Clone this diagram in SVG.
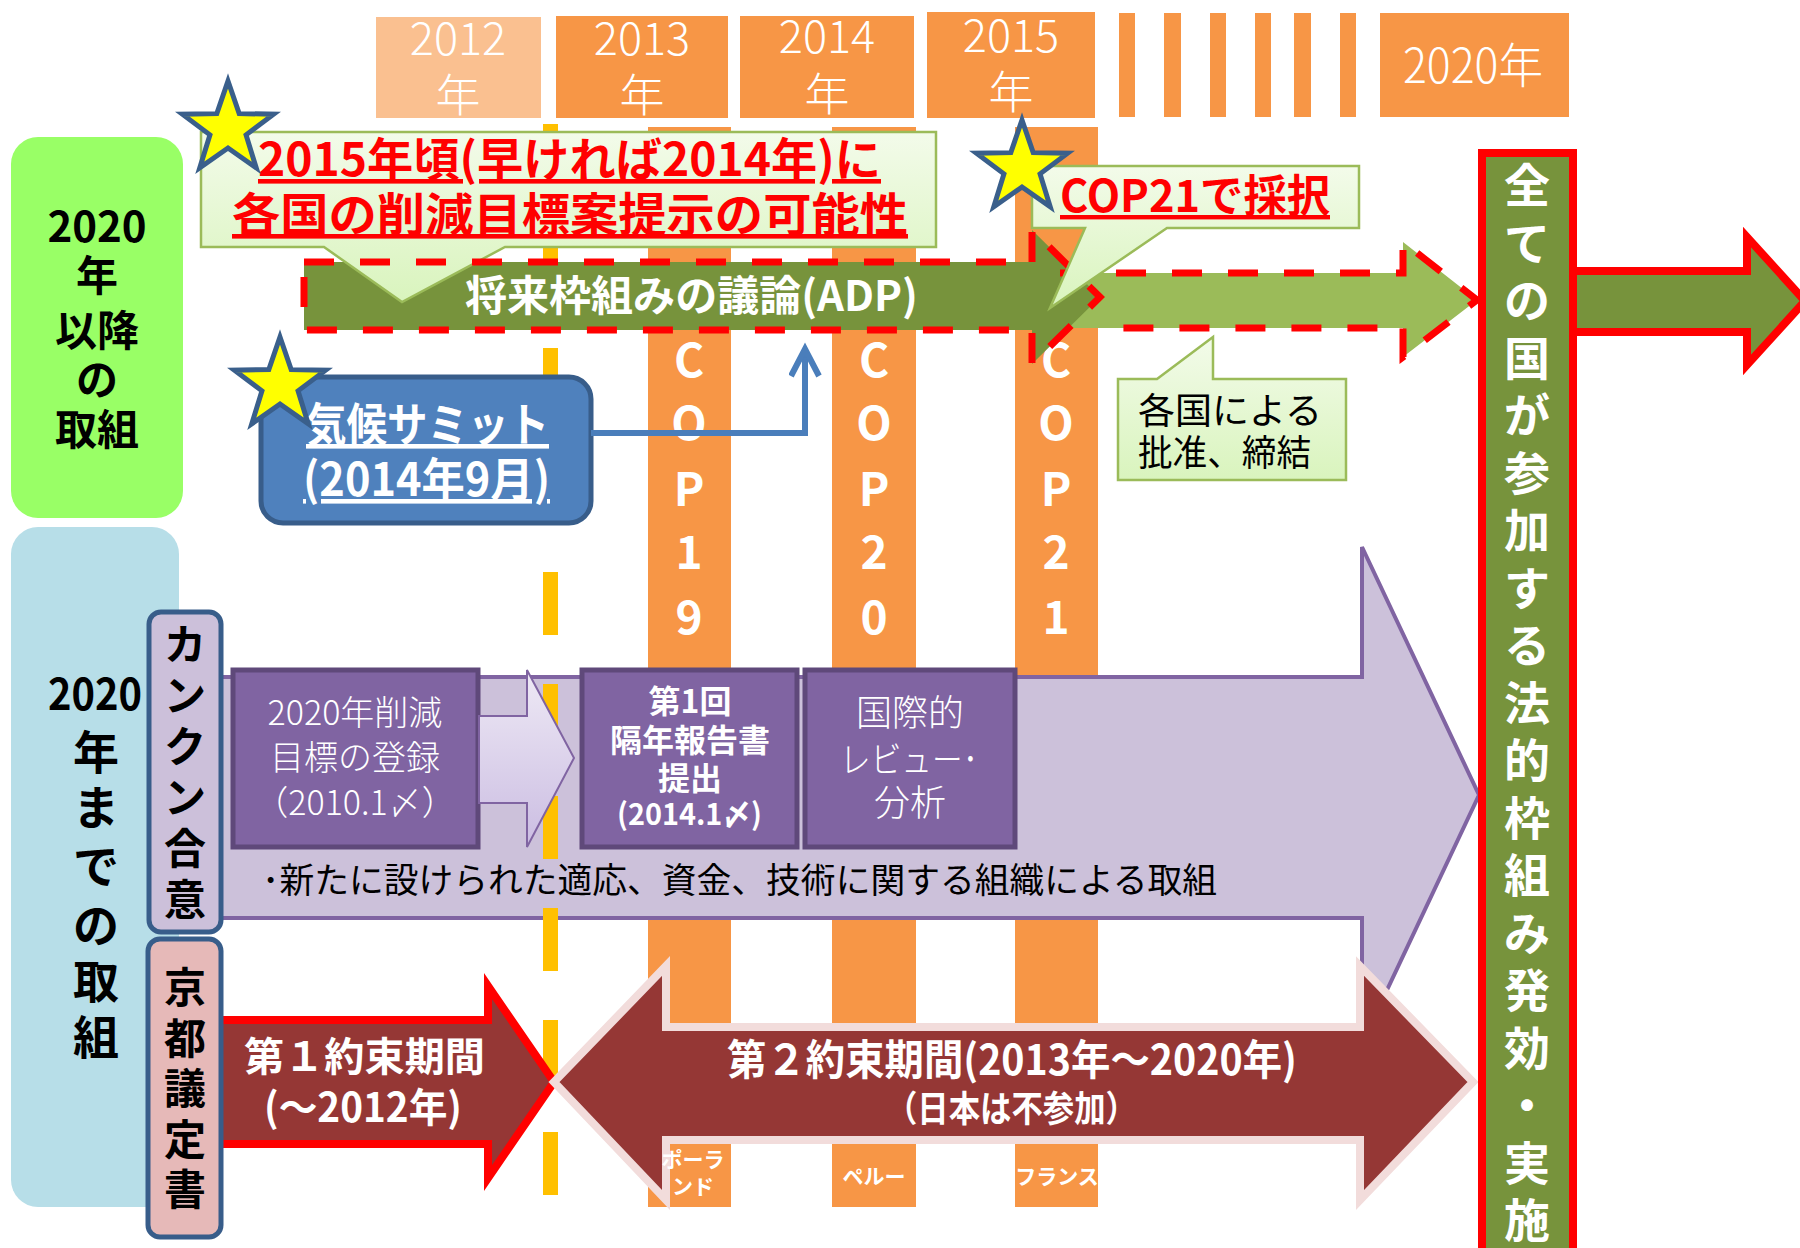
<svg xmlns="http://www.w3.org/2000/svg" xmlns:xlink="http://www.w3.org/1999/xlink" width="1800" height="1248" viewBox="0 0 1800 1248">
<style>
text { font-family: 'Noto Sans CJK JP', 'Noto Sans', sans-serif; }
.b { font-weight: 700; }
.l { font-weight: 300; }
.w { fill: #ffffff; }
.k { fill: #000000; }
.r { fill: #FF0000; text-decoration: underline; font-weight: 700; }
.m { text-anchor: middle; }
.yr { font-size: 45px; font-weight: 300; fill: #ffffff; text-anchor: middle; }
.col { fill: #F79646; }
.cop { font-size: 46px; font-weight: 700; fill: #ffffff; text-anchor: middle; }
.star { fill: #FFFF00; stroke: #3A5F8B; stroke-width: 5; stroke-linejoin: miter; }
.pbox { fill: #8064A2; stroke: #5F497A; stroke-width: 5; }
.callout { fill: url(#cg); stroke: #9BBB59; stroke-width: 2.5; }
.dash { fill: none; stroke: #FF0000; stroke-width: 7; stroke-dasharray: 30 26; }
</style>
<defs>
<linearGradient id="cg" x1="0" y1="0" x2="0" y2="1">
<stop offset="0" stop-color="#F3FBEA"/>
<stop offset="1" stop-color="#D9F4BD"/>
</linearGradient>
<linearGradient id="sg" x1="0" y1="0" x2="0" y2="1">
<stop offset="0" stop-color="#EEE9F5"/>
<stop offset="1" stop-color="#CBBDE2"/>
</linearGradient>
<path id="star" d="M0,-48 L11.17,-15.37 L45.65,-14.83 L18.07,5.87 L28.21,38.83 L0,19 L-28.21,38.83 L-18.07,5.87 L-45.65,-14.83 L-11.17,-15.37 Z"/>
<marker id="open" markerWidth="40" markerHeight="40" refX="30" refY="16" orient="auto" markerUnits="userSpaceOnUse">
<path d="M3,2 L30,16 L3,30" fill="none" stroke="#4A7EBB" stroke-width="6"/>
</marker>
</defs>
<rect width="1800" height="1248" fill="#ffffff"/>

<!-- year header -->
<g id="years">
<rect x="376" y="17" width="165" height="101" fill="#FAC090"/>
<text class="yr" x="458" y="55">2012</text><text class="yr" x="458" y="112">年</text>
<rect x="556" y="16" width="172" height="102" fill="#F79646"/>
<text class="yr" x="642" y="55">2013</text><text class="yr" x="642" y="112">年</text>
<rect x="740" y="16" width="174" height="102" fill="#F79646"/>
<text class="yr" x="827" y="53">2014</text><text class="yr" x="827" y="111">年</text>
<rect x="927" y="12" width="168" height="106" fill="#F79646"/>
<text class="yr" x="1011" y="52">2015</text><text class="yr" x="1011" y="109">年</text>
<rect x="1119" y="13" width="16" height="104" fill="#F79646"/>
<rect x="1164" y="13" width="17" height="104" fill="#F79646"/>
<rect x="1210" y="13" width="16" height="104" fill="#F79646"/>
<rect x="1255" y="13" width="16" height="104" fill="#F79646"/>
<rect x="1294" y="13" width="17" height="104" fill="#F79646"/>
<rect x="1340" y="13" width="16" height="104" fill="#F79646"/>
<rect x="1380" y="13" width="189" height="104" fill="#F79646"/>
<text x="1403" y="83" font-size="48" class="l w" textLength="140" lengthAdjust="spacingAndGlyphs">2020年</text>
</g>

<!-- left panels -->
<g id="panel-after2020">
<rect x="11" y="137" width="172" height="381" rx="27" fill="#99FF66"/>
<text class="b k m" font-size="42" x="97"><tspan x="97" y="242">2020</tspan><tspan x="97" y="291">年</tspan><tspan x="97" y="346">以降</tspan><tspan x="97" y="395">の</tspan><tspan x="97" y="445">取組</tspan></text>
</g>
<g id="panel-until2020">
<rect x="11" y="527" width="168" height="680" rx="27" fill="#B7DEE8"/>
<text class="b k" font-size="44" x="48" y="710" textLength="94" lengthAdjust="spacingAndGlyphs">2020</text>
<text class="b k m" font-size="46" x="96"><tspan x="96" y="769">年</tspan><tspan x="96" y="824">ま</tspan><tspan x="96" y="883">で</tspan><tspan x="96" y="942">の</tspan><tspan x="96" y="998">取</tspan><tspan x="96" y="1054">組</tspan></text>
</g>

<!-- COP columns -->
<g id="cop19">
<rect class="col" x="648" y="127" width="83" height="1080"/>
<text class="cop"><tspan x="689" y="377">C</tspan><tspan x="689" y="440">O</tspan><tspan x="689" y="506">P</tspan><tspan x="689" y="569">1</tspan><tspan x="689" y="634">9</tspan></text>
</g>
<g id="cop20">
<rect class="col" x="832" y="127" width="84" height="1080"/>
<text class="cop"><tspan x="874" y="377">C</tspan><tspan x="874" y="440">O</tspan><tspan x="874" y="506">P</tspan><tspan x="874" y="569">2</tspan><tspan x="874" y="634">0</tspan></text>
</g>
<g id="cop21">
<rect class="col" x="1015" y="127" width="83" height="1080"/>
<text class="cop"><tspan x="1056" y="377">C</tspan><tspan x="1056" y="440">O</tspan><tspan x="1056" y="506">P</tspan><tspan x="1056" y="569">2</tspan><tspan x="1056" y="634">1</tspan></text>
</g>

<!-- Cancun arrow -->
<g id="cancun-arrow">
<path d="M220,677 L1362,677 L1362,547 L1479,795 L1362,1043 L1362,918 L220,918 Z" fill="#CCC1DA" stroke="#8064A2" stroke-width="4"/>
</g>

<!-- yellow dashed 2012/2013 boundary -->
<g id="boundary">
<line x1="550.5" y1="124" x2="550.5" y2="1196" stroke="#FFC000" stroke-width="15" stroke-dasharray="63 49"/>
</g>

<g id="box-registration">
<rect class="pbox" x="233" y="670" width="245" height="177"/>
<text class="l w m" font-size="34"><tspan x="355" y="725">2020年削減</tspan><tspan x="355" y="770">目標の登録</tspan><tspan x="355" y="815">（2010.1〆）</tspan></text>
</g>
<g id="small-arrow">
<path d="M479,716 L527,716 L527,670 L574,758 L527,847 L527,803 L479,803 Z" fill="url(#sg)" stroke="#8064A2" stroke-width="2"/>
</g>
<g id="box-biennial">
<rect class="pbox" x="582" y="670" width="215" height="177"/>
<text class="b w m" font-size="32"><tspan x="690" y="713">第1回</tspan><tspan x="690" y="752">隔年報告書</tspan><tspan x="690" y="790">提出</tspan></text>
<text class="b w" font-size="30" x="617" y="825" textLength="145" lengthAdjust="spacingAndGlyphs">(2014.1〆)</text>
</g>
<g id="box-review">
<rect class="pbox" x="805" y="670" width="210" height="177"/>
<text class="l w m" font-size="36"><tspan x="910" y="726">国際的</tspan></text>
<text class="l w" font-size="36" x="840" y="773" textLength="138" lengthAdjust="spacingAndGlyphs">レビュー･</text>
<text class="l w m" font-size="36" x="910" y="816">分析</text>
</g>
<text class="k" font-size="35" x="262" y="893" textLength="955" lengthAdjust="spacingAndGlyphs">･新たに設けられた適応、資金、技術に関する組織による取組</text>

<!-- Kyoto arrows -->
<g id="cp1">
<path d="M218,1020 L488,1020 L488,986 L554,1082 L488,1178 L488,1144 L218,1144 Z" fill="#953735" stroke="#FF0000" stroke-width="8"/>
<text class="b w" font-size="40" x="244" y="1071" textLength="241" lengthAdjust="spacingAndGlyphs">第１約束期間</text>
<text class="b w" font-size="40" x="264" y="1122" textLength="198" lengthAdjust="spacingAndGlyphs">(～2012年)</text>
</g>
<g id="cp2">
<path d="M554,1082 L666,966 L666,1027 L1360,1027 L1360,966 L1473,1082 L1360,1200 L1360,1140 L666,1140 L666,1200 Z" fill="#953735" stroke="#F2DCDB" stroke-width="8"/>
<text class="b w" font-size="42" x="727" y="1075" textLength="570" lengthAdjust="spacingAndGlyphs">第２約束期間(2013年～2020年)</text>
<text class="b w" font-size="36" x="886" y="1122" textLength="251" lengthAdjust="spacingAndGlyphs">（日本は不参加）</text>
</g>
<g id="cop-hosts">
<text class="b w m" font-size="21"><tspan x="693" y="1167">ポーラ</tspan><tspan x="693" y="1194">ンド</tspan></text>
<text class="b w m" font-size="21" x="874" y="1184">ペルー</text>
<text class="b w m" font-size="21" x="1057" y="1184">フランス</text>
</g>

<!-- side labels -->
<g id="label-cancun">
<rect x="149" y="612" width="72" height="320" rx="12" fill="#CCC0DA" stroke="#385D8A" stroke-width="5"/>
<text class="b k m" font-size="42"><tspan x="185" y="660">カ</tspan><tspan x="185" y="711">ン</tspan><tspan x="185" y="762">ク</tspan><tspan x="185" y="813">ン</tspan><tspan x="185" y="864">合</tspan><tspan x="185" y="915">意</tspan></text>
</g>
<g id="label-kyoto">
<rect x="148" y="939" width="73" height="298" rx="12" fill="#E6B9B8" stroke="#385D8A" stroke-width="5"/>
<text class="b k m" font-size="42"><tspan x="185" y="1003">京</tspan><tspan x="185" y="1054">都</tspan><tspan x="185" y="1104">議</tspan><tspan x="185" y="1155">定</tspan><tspan x="185" y="1205">書</tspan></text>
</g>

<!-- ADP arrows -->
<g id="adp">
<path d="M1060,273 L1403,273 L1403,242 L1477,300 L1403,357 L1403,328 L1060,328 Z" fill="#9BBB59"/>
<path d="M304,262 L1032,262 L1032,230 L1100,297 L1032,364 L1032,330 L304,330 Z" fill="#77933C"/>
<text class="b w" font-size="42" x="465" y="311" textLength="453" lengthAdjust="spacingAndGlyphs">将来枠組みの議論(ADP)</text>
</g>

<g id="callout-2015">
<path class="callout" d="M201,132 L936,132 L936,247 L505,247 L402,302 L324,247 L201,247 Z"/>
<text class="r" font-size="46" x="258" y="176" textLength="623" lengthAdjust="spacingAndGlyphs">2015年頃(早ければ2014年)に</text>
<text class="r" font-size="46" x="232" y="231" textLength="676" lengthAdjust="spacingAndGlyphs">各国の削減目標案提示の可能性</text>
</g>

<g id="adp-outline">
<path class="dash" d="M1060,273 L1403,273 L1403,242 L1477,300 L1403,357 L1403,328 L1100,328"/>
<path class="dash" d="M304,262 L1032,262 L1032,230 L1100,297 L1032,364 L1032,330 L304,330 Z"/>
</g>

<g id="callout-cop21">
<path class="callout" d="M1032,166 L1359,166 L1359,228 L1167,228 L1050,308 L1085,228 L1032,228 Z"/>
<text class="r" font-size="44" x="1060" y="212" textLength="270" lengthAdjust="spacingAndGlyphs">COP21で採択</text>
</g>

<g id="callout-ratify">
<path class="callout" d="M1118,379 L1157,379 L1213,337 L1213,379 L1346,379 L1346,480 L1118,480 Z"/>
<text class="k" font-size="36" x="1138" y="424" textLength="184" lengthAdjust="spacingAndGlyphs">各国による</text>
<text class="k" font-size="36" x="1138" y="466" textLength="173" lengthAdjust="spacingAndGlyphs">批准、締結</text>
</g>

<g id="summit">
<rect x="261" y="377" width="330" height="146" rx="22" fill="#4F81BD" stroke="#385D8A" stroke-width="5"/>
<text class="b w" font-size="46" x="306" y="441" text-decoration="underline" textLength="243" lengthAdjust="spacingAndGlyphs">気候サミット</text>
<text class="b w" font-size="46" x="303" y="496" text-decoration="underline" textLength="247" lengthAdjust="spacingAndGlyphs">(2014年9月)</text>
</g>

<g id="connectors">
<path d="M591,433 L805,433 L805,349" fill="none" stroke="#4A7EBB" stroke-width="6" marker-end="url(#open)"/>
</g>

<g id="stars">
<use href="#star" class="star" x="228" y="129"/>
<use href="#star" class="star" x="280" y="385"/>
<use href="#star" class="star" x="1022" y="168"/>
</g>

<!-- final framework -->
<g id="arrow-2020">
<path d="M1560,271 L1747,271 L1747,237 L1805,301 L1747,365 L1747,332 L1560,332 Z" fill="#77933C" stroke="#FF0000" stroke-width="8"/>
</g>
<g id="framework">
<rect x="1482" y="153" width="91" height="1100" fill="#77933C" stroke="#FF0000" stroke-width="8"/>
<text class="b w m" font-size="46"><tspan x="1527" y="202">全</tspan><tspan x="1527" y="259.5">て</tspan><tspan x="1527" y="317">の</tspan><tspan x="1527" y="374.5">国</tspan><tspan x="1527" y="432">が</tspan><tspan x="1527" y="489.5">参</tspan><tspan x="1527" y="547">加</tspan><tspan x="1527" y="604.5">す</tspan><tspan x="1527" y="662">る</tspan><tspan x="1527" y="719.5">法</tspan><tspan x="1527" y="777">的</tspan><tspan x="1527" y="834.5">枠</tspan><tspan x="1527" y="892">組</tspan><tspan x="1527" y="949.5">み</tspan><tspan x="1527" y="1007">発</tspan><tspan x="1527" y="1064.5">効</tspan><tspan x="1527" y="1122">・</tspan><tspan x="1527" y="1179.5">実</tspan><tspan x="1527" y="1237">施</tspan></text>
</g>
</svg>
